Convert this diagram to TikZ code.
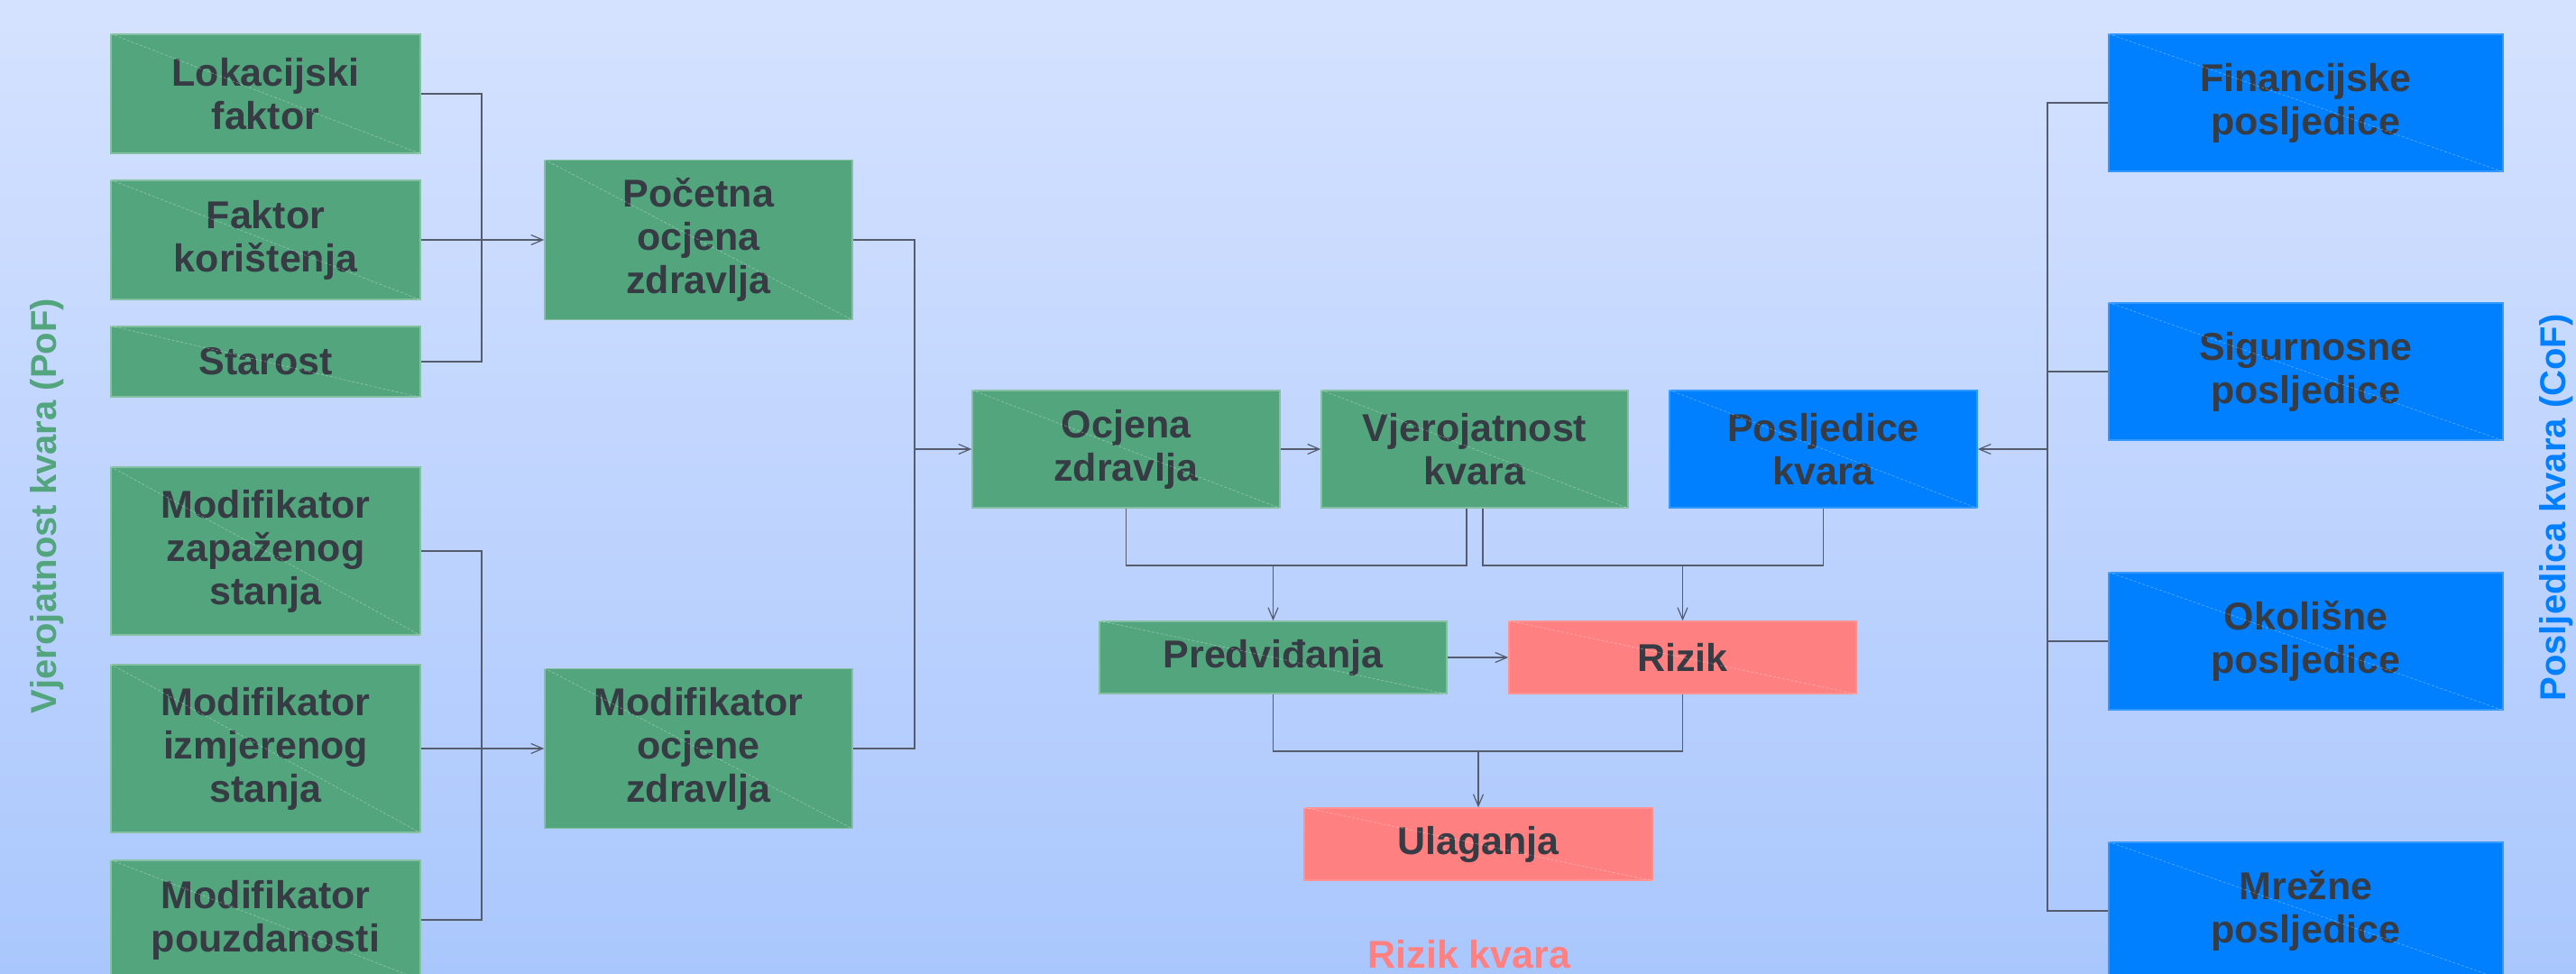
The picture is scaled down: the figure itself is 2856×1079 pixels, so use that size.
\documentclass[tikz,border=0pt]{standalone}
\usepackage{fontspec}
\setmainfont{Liberation Sans}
\usetikzlibrary{arrows.meta,calc}
\definecolor{bggreen}{RGB}{82,165,125}
\definecolor{bgblue}{RGB}{0,127,255}
\definecolor{bgred}{RGB}{255,128,128}
\definecolor{txt}{RGB}{54,59,68}
\definecolor{linec}{RGB}{85,92,110}
\definecolor{bgtop}{RGB}{213,226,255}
\definecolor{bgbot}{RGB}{170,199,253}
\begin{document}
\begin{tikzpicture}[x=1pt,y=-1pt,
  box/.style={rectangle, inner sep=0pt, align=center, text=txt, font=\fontsize{43}{48}\selectfont\bfseries, line width=1.5pt},
  gbox/.style={box, fill=bggreen, draw=bggreen!70!white},
  bbox/.style={box, fill=bgblue, draw=bgblue!80!white},
  rbox/.style={box, fill=bgred, draw=bgred!85!white},
  conn/.style={draw=linec, line width=1.3pt},
  arr/.style={conn, -{Straight Barb[length=13pt,width=11pt,line width=1.2pt]}},
  diag/.style={draw=white, opacity=0.3, line width=0.8pt, dash pattern=on 3pt off 2pt},
  side/.style={font=\fontsize{40}{48}\selectfont\bfseries, rotate=90, inner sep=0pt}
]
\useasboundingbox (0,0) rectangle (2856,1079);
\clip (0,0) rectangle (2856,1079);
\shade[top color=bgtop, bottom color=bgbot] (0,0) rectangle (2856,1079);

% left column
\node[gbox, minimum width=343pt, minimum height=132pt] (lok) at (294.5,104) {Lokacijski\\faktor};
\node[gbox, minimum width=343pt, minimum height=132pt] (fak) at (294.5,266) {Faktor\\korištenja};
\node[gbox, minimum width=343pt, minimum height=78pt] (sta) at (294.5,401) {Starost};
\node[gbox, minimum width=343pt, minimum height=186pt] (zap) at (294.5,611) {Modifikator\\zapaženog\\stanja};
\node[gbox, minimum width=343pt, minimum height=186pt] (izm) at (294.5,830) {Modifikator\\izmjerenog\\stanja};
\node[gbox, minimum width=343pt, minimum height=132pt] (pou) at (294.5,1020) {Modifikator\\pouzdanosti};

% second column
\node[gbox, minimum width=341pt, minimum height=177pt] (poc) at (774.5,266) {Početna\\ocjena\\zdravlja};
\node[gbox, minimum width=341pt, minimum height=177pt] (moc) at (774.5,830) {Modifikator\\ocjene\\zdravlja};

% middle row
\node[gbox, minimum width=341pt, minimum height=130pt] (ocj) at (1248.5,498) {Ocjena\\zdravlja};
\node[gbox, minimum width=340pt, minimum height=130pt] (vje) at (1635,498) {Vjerojatnost\\kvara};
\node[bbox, minimum width=341pt, minimum height=130pt] (pos) at (2021.5,498) {Posljedice\\kvara};

\node[gbox, minimum width=385pt, minimum height=80pt] (pre) at (1411.5,729) {Predviđanja};
\node[rbox, minimum width=385pt, minimum height=80pt] (riz) at (1865.5,729) {Rizik};
\node[rbox, minimum width=386pt, minimum height=80pt] (ula) at (1639,936) {Ulaganja};

% right column
\node[bbox, minimum width=437pt, minimum height=152pt] (fin) at (2556.5,114) {Financijske\\posljedice};
\node[bbox, minimum width=437pt, minimum height=152pt] (sig) at (2556.5,412) {Sigurnosne\\posljedice};
\node[bbox, minimum width=437pt, minimum height=152pt] (oko) at (2556.5,711) {Okolišne\\posljedice};
\node[bbox, minimum width=437pt, minimum height=152pt] (mre) at (2556.5,1010) {Mrežne\\posljedice};

\foreach \n in {lok,fak,sta,zap,izm,pou,poc,moc,ocj,vje,pos,pre,riz,ula,fin,sig,oko,mre}
  \draw[diag] (\n.north west) -- (\n.south east);

% side labels
\node[side, text=bggreen] (pof) at (52,561) {Vjerojatnost kvara (PoF)};
\node[side, text=bgblue] (cof) at (2834,563) {Posljedica kvara (CoF)};
\node[font=\fontsize{43}{48}\selectfont\bfseries, text=bgred, anchor=base, inner sep=0pt] (rk) at (1629,1073) {Rizik kvara};

% junction coordinates
\coordinate (j1) at (534,266);
\coordinate (j1b) at (534,830);
\coordinate (j2) at (1014,498);
\coordinate (h1) at (1411.5,627);
\coordinate (h2) at (1639,833);
\coordinate (j3) at (2270,498);
\coordinate (va) at ($(vje.south)+(-9,0)$);
\coordinate (vb) at ($(vje.south)+(9,0)$);

% left connectors
\draw[conn] (lok.east) -| (j1 |- sta.east) -- (sta.east);
\draw[arr] (fak.east) -- (poc.west);
\draw[conn] (zap.east) -| (j1b |- pou.east) -- (pou.east);
\draw[arr] (izm.east) -- (moc.west);
\draw[conn] (poc.east) -| (j2 |- moc.east) -- (moc.east);
\draw[arr] (j2) -- (ocj.west);
\draw[arr] (ocj.east) -- (vje.west);

% middle connectors
\draw[conn] (ocj.south) |- (va |- h1) -- (va);
\draw[arr] (h1) -- (pre.north);
\draw[conn] (vb) |- (pos.south |- h1) -- (pos.south);
\draw[arr] (riz.north |- h1) -- (riz.north);
\draw[arr] (pre.east) -- (riz.west);
\draw[conn] (pre.south) |- (riz.south |- h2) -- (riz.south);
\draw[arr] (h2) -- (ula.north);

% right connectors
\draw[conn] (fin.west) -| (j3 |- mre.west) -- (mre.west);
\draw[conn] (sig.west) -- (sig.west -| j3);
\draw[conn] (oko.west) -- (oko.west -| j3);
\draw[arr] (j3) -- (pos.east);
\end{tikzpicture}
\end{document}
